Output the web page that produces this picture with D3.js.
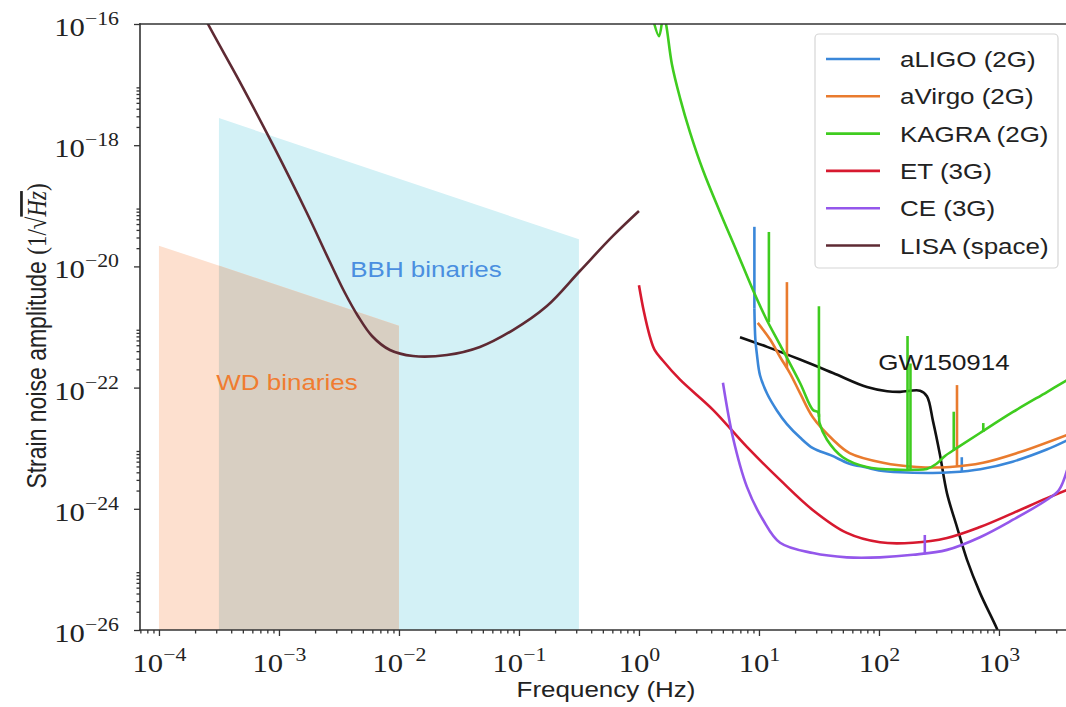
<!DOCTYPE html>
<html lang="en">
<head>
<meta charset="utf-8">
<title>Detector sensitivity curves</title>
<script src="https://cdn.jsdelivr.net/npm/d3@7"></script>
<style>
  body { margin: 0; background: #fff; }
  svg { display: block; }
  .sans { font-family: "Liberation Sans", Arial, sans-serif; }
  .serif { font-family: "Liberation Serif", "DejaVu Serif", serif; }
</style>
</head>
<body>
<div id="chart"></div>
<script>
// ---- data: [frequency (Hz), strain (1/sqrt(Hz))] ----
var aligo = [
  [9.16, 2.0e-21], [9.33, 6.3e-22], [9.62, 3.5e-22], [10.2, 1.6e-22], [11.7, 7.9e-23],
  [14.1, 4.2e-23], [17.1, 2.5e-23], [22, 1.5e-23], [28.2, 1.0e-23], [40, 7.6e-24],
  [56, 5.6e-24], [79, 4.8e-24], [100, 4.3e-24], [150, 4.0e-24], [280, 3.9e-24],
  [400, 4.0e-24], [700, 4.5e-24], [1300, 6.0e-24], [2500, 9.5e-24], [3700, 1.35e-23]
];
var avirgo = [
  [9.77, 1.17e-21], [12.4, 6.2e-22], [15.0, 3.2e-22], [18.1, 1.74e-22], [22, 8.1e-23],
  [28.2, 3.2e-23], [41.4, 1.38e-23], [57, 8.3e-24], [108, 5.75e-24], [207, 4.9e-24],
  [390, 4.9e-24], [736, 5.75e-24], [1413, 8.3e-24], [3700, 1.66e-23]
];
var kagra = [
  [1.2, 2.5e-16], [1.47, 6.3e-17], [1.6, 1.4e-16], [1.68, 1.0e-16], [1.88, 2.19e-17],
  [2.2, 6.0e-18], [2.66, 1.65e-18], [3.41, 3.9e-19], [4.73, 7.9e-20], [6.56, 1.73e-20],
  [8.91, 4.08e-21], [11.4, 1.41e-21], [15.0, 5.05e-22], [22, 1.19e-22], [28.2, 4.27e-23],
  [31.2, 3.9e-23], [32.0, 2.6e-23], [36.9, 1.38e-23], [50, 7.1e-24], [79, 4.9e-24],
  [150, 4.4e-24], [200, 4.4e-24], [250, 4.54e-24], [300, 5.48e-24], [355, 7.43e-24],
  [447, 1.01e-23], [695, 1.78e-23], [1309, 3.96e-23], [2512, 8.45e-23], [3700, 1.33e-22]
];
var et = [
  [1.0, 4.9e-21], [1.1, 1.78e-21], [1.23, 7.1e-22], [1.35, 4.2e-22], [1.58, 2.8e-22],
  [2.2, 1.35e-22], [4.14, 4.3e-23], [7.94, 1.05e-23], [15, 3.0e-24], [28.2, 9.5e-25],
  [54, 4.0e-25], [102, 2.8e-25], [192, 2.75e-25], [369, 3.3e-25], [695, 5.0e-25],
  [1309, 8.5e-25], [2512, 1.5e-24], [3700, 2.05e-24]
];
var ce = [
  [5.01, 1.2e-22], [6.07, 1.5e-23], [7.94, 2.3e-24], [10.8, 6.6e-25], [15, 2.75e-25],
  [28.2, 1.86e-25], [54, 1.58e-25], [102, 1.58e-25], [192, 1.74e-25], [369, 2.1e-25],
  [695, 3.4e-25], [1309, 6.6e-25], [2512, 1.41e-24], [3162, 2.05e-24], [3700, 4.4e-24]
];
var lisa = [
  [2.03e-4, 2.5e-16], [2.56e-4, 1.0e-16], [4.73e-4, 1.1e-17], [8.91e-4, 1.01e-18],
  [1.71e-3, 7.6e-20], [2.66e-3, 1.18e-20], [3.55e-3, 3.64e-21], [4.55e-3, 1.52e-21],
  [5.96e-3, 7.1e-22], [8.41e-3, 4.17e-22], [1.31e-2, 3.32e-22], [2.51e-2, 3.45e-22],
  [4.73e-2, 4.68e-22], [8.91e-2, 8.9e-22], [0.171, 2.22e-21], [0.322, 8.4e-21],
  [0.607, 3.18e-20], [1.0, 8.2e-20]
];
var gw150914 = [
  [6.95, 6.8e-22], [11.7, 4.7e-22], [22, 2.9e-22], [41.4, 1.74e-22], [79.4, 1.02e-22],
  [117, 8.7e-23], [150, 8.5e-23], [220, 8.9e-23], [251, 7.2e-23], [282, 2.8e-23],
  [322, 7.9e-24], [369, 1.8e-24], [447, 5.0e-25], [541, 1.45e-25], [695, 4.1e-26],
  [962, 1.05e-26], [1122, 5.0e-27]
];
// narrow lines on top of the curves: [frequency, base strain, peak strain]
var aligoSpikes = [[9.16, 2.0e-21, 4.5e-20], [490, 4.1e-24, 7.1e-24]];
var avirgoSpikes = [[17.1, 2.1e-22, 5.5e-21], [447, 5.0e-24, 1.1e-22]];
var kagraSpikes = [[12.1, 1.2e-21, 3.7e-20], [31.6, 3.3e-23, 2.2e-21], [173, 4.4e-24, 7.1e-22],
  [183, 4.4e-24, 2.5e-22], [420, 9.0e-24, 4.0e-23], [740, 1.85e-23, 2.6e-23]];
var ceSpikes = [[241, 1.78e-25, 3.7e-25]];

// source bands: frequency edges and upper strain edge
var wdBand = { f: [1e-4, 1e-2], top: [2.2e-20, 1.05e-21] };
var bbhBand = { f: [3.16e-4, 0.316], top: [2.8e-18, 2.8e-20] };

var legendNames = ["aLIGO (2G)", "aVirgo (2G)", "KAGRA (2G)", "ET (3G)", "CE (3G)", "LISA (space)"];
var legendColors = ["#3a87d9", "#e97b2e", "#3fcc1f", "#d7192f", "#9457eb", "#5e2a33"];
var xTickExp = [-4, -3, -2, -1, 0, 1, 2, 3];
var yTickExp = [-26, -24, -22, -20, -18, -16];

// ---- layout ----
var W = 1066, H = 707;
var pLeft = 140, pRight = 1067, pTop = 24, pBottom = 630;
var SX = 1.18;   // picture is stretched sideways, so is the text

var x = d3.scaleLog().domain([Math.pow(10, -4.158), Math.pow(10, 3.567)]).range([pLeft, pRight]);
var y = d3.scaleLog().domain([1e-26, 1e-16]).range([pBottom, pTop]);

var svg = d3.select("#chart").append("svg").attr("width", W).attr("height", H);

function bandPath(b) {
  var pts = [[b.f[0], 1e-26], [b.f[0], b.top[0]], [b.f[1], b.top[1]], [b.f[1], 1e-26]];
  return "M" + pts.map(function(p) { return x(p[0]) + "," + y(p[1]); }).join("L") + "Z";
}

svg.append("clipPath").attr("id", "plotclip")
  .append("rect").attr("x", pLeft).attr("y", pTop).attr("width", pRight - pLeft).attr("height", pBottom - pTop);
svg.append("clipPath").attr("id", "bbhclip")
  .append("path").attr("d", bandPath(bbhBand));

var plot = svg.append("g").attr("clip-path", "url(#plotclip)");

// bands
plot.append("path").attr("d", bandPath(bbhBand)).attr("fill", "#d3f1f6");
plot.append("path").attr("d", bandPath(wdBand)).attr("fill", "#fde0cf");
plot.append("path").attr("d", bandPath(wdBand)).attr("fill", "#d8cfc2").attr("clip-path", "url(#bbhclip)");

var line = d3.line()
  .x(function(d) { return x(d[0]); })
  .y(function(d) { return y(d[1]); })
  .curve(d3.curveCatmullRom.alpha(0.5));

var series = [
  { pts: gw150914, spikes: [], color: "#111111" },
  { pts: aligo, spikes: aligoSpikes, color: legendColors[0] },
  { pts: avirgo, spikes: avirgoSpikes, color: legendColors[1] },
  { pts: kagra, spikes: kagraSpikes, color: legendColors[2] },
  { pts: et, spikes: [], color: legendColors[3] },
  { pts: ce, spikes: ceSpikes, color: legendColors[4] },
  { pts: lisa, spikes: [], color: legendColors[5] }
];
series.forEach(function(s) {
  plot.append("path").datum(s.pts).attr("d", line)
    .attr("fill", "none")
    .attr("stroke", s.color)
    .attr("stroke-width", 2.6)
    .attr("stroke-linejoin", "round");
  plot.selectAll(null).data(s.spikes).enter().append("line")
    .attr("x1", function(d) { return x(d[0]); })
    .attr("x2", function(d) { return x(d[0]); })
    .attr("y1", function(d) { return y(d[1]); })
    .attr("y2", function(d) { return y(d[2]); })
    .attr("stroke", s.color)
    .attr("stroke-width", 2.6);
});

function stretchText(parent, px, py, str) {
  return parent.append("text")
    .attr("transform", "translate(" + px + "," + py + ") scale(" + SX + ",1)")
    .text(str);
}

// in-plot labels
stretchText(svg, 426, 277, "BBH binaries").attr("class", "sans").attr("font-size", 22)
  .attr("text-anchor", "middle").attr("fill", "#4a8fe0");
stretchText(svg, 287, 390, "WD binaries").attr("class", "sans").attr("font-size", 22)
  .attr("text-anchor", "middle").attr("fill", "#f07c30");
stretchText(svg, 944, 370, "GW150914").attr("class", "sans").attr("font-size", 22)
  .attr("text-anchor", "middle").attr("fill", "#1a1a1a");

// axes
function supLabel(sel) {
  sel.each(function(d) {
    var e = Math.round(Math.log10(d));
    var t = d3.select(this);
    t.text(null).attr("class", "serif").attr("font-size", 26).attr("fill", "#222");
    t.append("tspan").text("10");
    t.append("tspan").attr("dy", -11).attr("font-size", 18.5).text(e < 0 ? "\u2212" + (-e) : String(e));
  });
}

var minorX = [];
for (var e = -5; e <= 3; e++) for (var k = 2; k <= 9; k++) {
  var v = k * Math.pow(10, e);
  if (v > x.domain()[0] && v < x.domain()[1]) minorX.push(v);
}
var minorY = [];
[-26, -24, -22, -20, -18].forEach(function(e) {
  for (var k = 2; k <= 9; k++) minorY.push(k * Math.pow(10, e));
});

var gx = svg.append("g").attr("transform", "translate(0," + pBottom + ")");
gx.call(d3.axisBottom(x).tickValues(minorX).tickSize(3.5).tickSizeOuter(0).tickFormat(""));
var gxMaj = svg.append("g").attr("transform", "translate(0," + pBottom + ")");
gxMaj.call(d3.axisBottom(x).tickValues(xTickExp.map(function(e) { return Math.pow(10, e); }))
  .tickSize(6).tickSizeOuter(0).tickFormat(function(d) { return d; }));
gxMaj.selectAll(".tick text").attr("y", null).attr("dy", null)
  .attr("transform", "translate(0,42) scale(" + SX + ",1)").attr("text-anchor", "middle")
  .call(supLabel);

var gy = svg.append("g").attr("transform", "translate(" + pLeft + ",0)");
gy.call(d3.axisLeft(y).tickValues(minorY).tickSize(3.5).tickSizeOuter(0).tickFormat(""));
var gyMaj = svg.append("g").attr("transform", "translate(" + pLeft + ",0)");
gyMaj.call(d3.axisLeft(y).tickValues(yTickExp.map(function(e) { return Math.pow(10, e); }))
  .tickSize(6).tickSizeOuter(0).tickFormat(function(d) { return d; }));
gyMaj.selectAll(".tick text").attr("x", null).attr("dy", null)
  .attr("transform", "translate(-21,11.5) scale(" + SX + ",1)").attr("text-anchor", "end")
  .call(supLabel);

svg.selectAll(".domain").remove();
svg.selectAll(".tick line").attr("stroke", "#333").attr("stroke-width", 1.3);

// spines
[[pLeft, pTop, pRight, pTop], [pLeft, pTop, pLeft, pBottom], [pLeft, pBottom, pRight, pBottom]].forEach(function(s) {
  svg.append("line").attr("x1", s[0]).attr("y1", s[1]).attr("x2", s[2]).attr("y2", s[3])
    .attr("stroke", "#333").attr("stroke-width", 1.6).attr("stroke-linecap", "square");
});

// axis titles
stretchText(svg, 606, 697, "Frequency (Hz)").attr("class", "sans").attr("font-size", 22)
  .attr("text-anchor", "middle").attr("fill", "#222");

var yl = svg.append("text")
  .attr("transform", "translate(46,336) scale(" + SX + ",1) rotate(-90)")
  .attr("text-anchor", "middle").attr("font-size", 23).attr("fill", "#222");
yl.append("tspan").attr("class", "sans").text("Strain noise amplitude ");
yl.append("tspan").attr("class", "serif").text("(1/\u221A");
yl.append("tspan").attr("class", "serif").attr("font-style", "italic")
  .style("text-decoration", "overline").text("Hz");
yl.append("tspan").attr("class", "serif").text(")");

// legend
var lg = svg.append("g");
lg.append("rect").attr("x", 815).attr("y", 34).attr("width", 243).attr("height", 234)
  .attr("rx", 4).attr("fill", "#fff").attr("fill-opacity", 0.85)
  .attr("stroke", "#d6d6d6").attr("stroke-width", 1.2);
legendNames.forEach(function(name, i) {
  var ry = 59 + i * 37.3;
  lg.append("line").attr("x1", 826).attr("x2", 880).attr("y1", ry).attr("y2", ry)
    .attr("stroke", legendColors[i]).attr("stroke-width", 2.6);
  stretchText(lg, 900, ry + 8, name).attr("class", "sans").attr("font-size", 22).attr("fill", "#222");
});
</script>
</body>
</html>
